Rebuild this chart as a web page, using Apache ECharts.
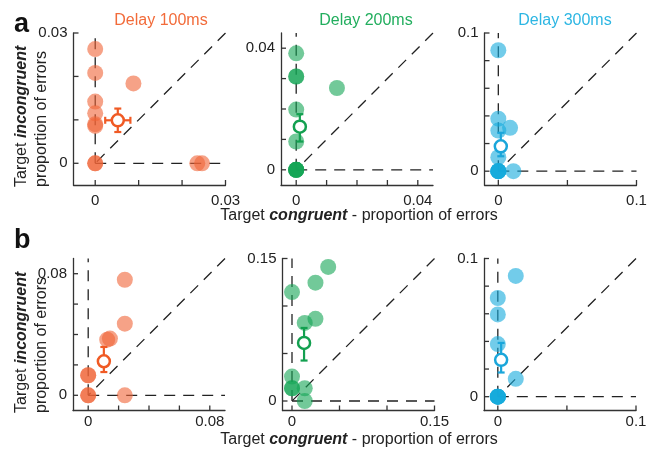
<!DOCTYPE html>
<html><head><meta charset="utf-8">
<script src="https://cdn.jsdelivr.net/npm/echarts@6/dist/echarts.min.js"></script>
<style>html,body{margin:0;padding:0;background:#fff}#c{width:655px;height:452px}</style>
</head><body><div id="c"></div>
<script>
// ---------- DATA ----------
const delayTitles = ['Delay 100ms', 'Delay 200ms', 'Delay 300ms'];
const panelLetters = ['a', 'b'];

// Row a
const a100Congruent   = [0, 0, 0, 0, 0, 0, 0, 0, 0.0088, 0.0235, 0.0246];
const a100Incongruent = [0.0263, 0.0208, 0.0142, 0.0115, 0.0090, 0.0086, 0, 0, 0.0184, 0, 0];
const a100Mean = [0.0052, 0.0099];
const a100ErrX = [0.0023, 0.0081];
const a100ErrY = [0.0072, 0.0126];

const a200Congruent   = [0, 0, 0, 0, 0, 0, 0, 0, 0, 0, 0.0134];
const a200Incongruent = [0.0383, 0.0307, 0.0307, 0.0198, 0.0093, 0, 0, 0, 0, 0, 0.0269];
const a200Mean = [0.0012, 0.0142];
const a200ErrX = [0.0012, 0.0012];
const a200ErrY = [0.0093, 0.0183];

const a300Congruent   = [0, 0, 0, 0, 0, 0, 0, 0, 0, 0.0085, 0.0109];
const a300Incongruent = [0.0875, 0.0380, 0.0294, 0.0101, 0, 0, 0, 0, 0, 0.0314, 0];
const a300Mean = [0.0018, 0.0180];
const a300ErrX = [0.0018, 0.0018];
const a300ErrY = [0.0108, 0.0278];

// Row b
const b100Congruent   = [0, 0, 0, 0, 0.0241, 0.0241, 0.0241, 0.0125, 0.0143];
const b100Incongruent = [0.0132, 0.0132, 0, 0, 0.0760, 0.0471, 0, 0.0366, 0.0373];
const b100Mean = [0.0103, 0.0224];
const b100ErrX = [0.0103, 0.0103];
const b100ErrY = [0.0153, 0.0318];

const b200Congruent   = [0, 0, 0, 0, 0.0134, 0.0134, 0.0134, 0.0247, 0.0247, 0.0381];
const b200Incongruent = [0.1147, 0.0257, 0.0134, 0.0134, 0.0822, 0.0134, 0, 0.1246, 0.0865, 0.1411];
const b200Mean = [0.0127, 0.0611];
const b200ErrX = [0.0127, 0.0127];
const b200ErrY = [0.0426, 0.0769];

const b300Congruent   = [0, 0, 0, 0, 0, 0, 0, 0, 0.0130, 0.0130];
const b300Incongruent = [0.0714, 0.0595, 0.0381, 0, 0, 0, 0, 0, 0.0874, 0.0129];
const b300Mean = [0.0024, 0.0267];
const b300ErrX = [0.0024, 0.0024];
const b300ErrY = [0.0175, 0.0389];

// axis ranges & ticks
const axisMin = [-0.005, -0.005, -0.01, -0.01, -0.01, -0.01];
const axisMax = [0.03, 0.045, 0.1, 0.09, 0.15, 0.1];
const xTicks = [[0, 0.01, 0.02, 0.03], [0, 0.01, 0.02, 0.03, 0.04], [0, 0.05, 0.1],
                [0, 0.02, 0.04, 0.06, 0.08], [0, 0.05, 0.1, 0.15], [0, 0.05, 0.1]];
const yTicks = [[0, 0.01, 0.02, 0.03], [0, 0.01, 0.02, 0.03, 0.04], [0, 0.02, 0.04, 0.06, 0.08, 0.1],
                [0, 0.02, 0.04, 0.06, 0.08], [0, 0.05, 0.1, 0.15], [0, 0.02, 0.04, 0.06, 0.08, 0.1]];
const tickLabels = [[0, 0.03], [0, 0.04], [0, 0.1], [0, 0.08], [0, 0.15], [0, 0.1]];

// ---------- STYLE / LAYOUT ----------
const FONT = '"Liberation Sans", Arial, sans-serif';
const pointColors = ['rgba(240,100,55,0.6)', 'rgba(20,165,85,0.6)', 'rgba(20,170,220,0.6)'];
const meanColors = ['#F05A24', '#13A050', '#1AA6DA'];
const titleColors = ['#F26B3A', '#22AE5E', '#2DB6E3'];
const gridLefts = [73.5, 281, 484.5, 73, 282.5, 484];
const gridTops = [33, 33, 33, 258.5, 258.5, 258.5];
const GW = 152, GH = 152;

const panels = [
  [a100Congruent, a100Incongruent, a100Mean, a100ErrX, a100ErrY],
  [a200Congruent, a200Incongruent, a200Mean, a200ErrX, a200ErrY],
  [a300Congruent, a300Incongruent, a300Mean, a300ErrX, a300ErrY],
  [b100Congruent, b100Incongruent, b100Mean, b100ErrX, b100ErrY],
  [b200Congruent, b200Incongruent, b200Mean, b200ErrX, b200ErrY],
  [b300Congruent, b300Incongruent, b300Mean, b300ErrX, b300ErrY]
];

const grid = [], xAxis = [], yAxis = [], series = [];
const AXC = '#333';
const axisLineStyle = { color: AXC, width: 1.3 };
const dashStyle = { color: '#222', width: 1.3, type: [11, 8] };
const TICK = 5;

panels.forEach((p, i) => {
  const col = i % 3, row = Math.floor(i / 3);
  grid.push({ left: gridLefts[i], top: gridTops[i], width: GW, height: GH, containLabel: false, outerBoundsMode: 'none' });
  const common = {
    gridIndex: i, type: 'value', min: axisMin[i], max: axisMax[i],
    splitLine: { show: false },
    axisTick: { show: false },
    axisLine: { show: true, onZero: false, lineStyle: axisLineStyle }
  };
  xAxis.push(Object.assign({}, common, {
    axisLabel: { show: true, customValues: tickLabels[i], formatter: v => String(v),
      margin: row === 0 ? 8 : 4, fontSize: 15, color: '#222', fontFamily: FONT }
  }));
  yAxis.push(Object.assign({}, common, {
    axisLabel: { show: true, customValues: tickLabels[i], formatter: v => String(v),
      margin: 6, fontSize: 15, color: '#222', fontFamily: FONT }
  }));
  const mx = axisMax[i], mn = axisMin[i];
  // inward ticks (x then y), positioned through the axis scale
  const tickData = xTicks[i].map(v => [v, mn, 0]).concat(yTicks[i].map(v => [mn, v, 1]));
  series.push({
    type: 'custom', xAxisIndex: i, yAxisIndex: i, z: 6, animation: false, silent: true,
    data: tickData, encode: { x: 0, y: 1 },
    renderItem: (params, api) => {
      const pt = api.coord([api.value(0), api.value(1)]);
      const isY = api.value(2) === 1;
      return {
        type: 'group', children: [{
          type: 'line',
          shape: isY ? { x1: pt[0], y1: pt[1], x2: pt[0] + TICK, y2: pt[1] }
                     : { x1: pt[0], y1: pt[1], x2: pt[0], y2: pt[1] - TICK },
          style: { stroke: AXC, lineWidth: 1.3 }
        }]
      };
    }
  });
  // reference lines
  const refLines = [[[0, 0], [0, mx]], [[0, 0], [mx, 0]], [[mx, mx], [0, 0]]];
  refLines.forEach(d => series.push({
    type: 'line', xAxisIndex: i, yAxisIndex: i, data: d, symbol: 'none', silent: true,
    lineStyle: dashStyle, z: 1, animation: false
  }));
  // individual subjects
  series.push({
    type: 'scatter', xAxisIndex: i, yAxisIndex: i, symbolSize: 16, z: 2, animation: false,
    data: p[0].map((x, k) => [x, p[1][k]]),
    itemStyle: { color: pointColors[col], opacity: 1 }
  });
  // error bars
  const c = meanColors[col];
  series.push({
    type: 'custom', xAxisIndex: i, yAxisIndex: i, z: 3, animation: false,
    data: [[p[2][0], p[2][1], p[3][0], p[3][1], p[4][0], p[4][1]]],
    encode: { x: 0, y: 1 },
    renderItem: (params, api) => {
      const m = [api.value(0), api.value(1)];
      const style = { stroke: c, lineWidth: 2.2 };
      const ch = [];
      const cap = 3.5;
      const y1 = api.coord([m[0], api.value(4)]), y2 = api.coord([m[0], api.value(5)]);
      if (Math.abs(y1[1] - y2[1]) > 1) {
        ch.push({ type: 'line', shape: { x1: y1[0], y1: y1[1], x2: y2[0], y2: y2[1] }, style });
        ch.push({ type: 'line', shape: { x1: y1[0] - cap, y1: y1[1], x2: y1[0] + cap, y2: y1[1] }, style });
        ch.push({ type: 'line', shape: { x1: y2[0] - cap, y1: y2[1], x2: y2[0] + cap, y2: y2[1] }, style });
      }
      const x1 = api.coord([api.value(2), m[1]]), x2 = api.coord([api.value(3), m[1]]);
      if (Math.abs(x1[0] - x2[0]) > 1) {
        ch.push({ type: 'line', shape: { x1: x1[0], y1: x1[1], x2: x2[0], y2: x2[1] }, style });
        ch.push({ type: 'line', shape: { x1: x1[0], y1: x1[1] - cap, x2: x1[0], y2: x1[1] + cap }, style });
        ch.push({ type: 'line', shape: { x1: x2[0], y1: x2[1] - cap, x2: x2[0], y2: x2[1] + cap }, style });
      }
      return { type: 'group', children: ch };
    }
  });
  // mean marker
  series.push({
    type: 'scatter', xAxisIndex: i, yAxisIndex: i, symbolSize: 12, z: 4, animation: false,
    data: [[p[2][0], p[2][1]]],
    itemStyle: { color: '#fff', borderColor: c, borderWidth: 2.5, opacity: 1 }
  });
});

const graphic = [];
delayTitles.forEach((t, k) => graphic.push({
  type: 'text', x: [161, 366, 565][k], y: 21,
  style: { text: t, fill: titleColors[k], font: '16px ' + FONT, align: 'center', verticalAlign: 'middle' }
}));
panelLetters.forEach((t, k) => graphic.push({
  type: 'text', x: 14, y: [38, 254][k],
  style: { text: t, fill: '#111', font: 'bold 27px ' + FONT, align: 'left', verticalAlign: 'bottom' }
}));
const richTitle = {
  n: { fontSize: 16, fontFamily: FONT, fill: '#222', color: '#222' },
  b: { fontSize: 16, fontFamily: FONT, fontWeight: 'bold', fontStyle: 'italic', fill: '#222', color: '#222' }
};
[187, 413].forEach(by => {
  graphic.push({
    type: 'text', x: 22, y: by, rotation: Math.PI / 2,
    style: { text: '{n|Target }{b|incongruent}', rich: richTitle, align: 'left', verticalAlign: 'middle', fill: '#222' }
  });
  graphic.push({
    type: 'text', x: 42, y: by, rotation: Math.PI / 2,
    style: { text: 'proportion of errors', font: '16px ' + FONT, fill: '#222', align: 'left', verticalAlign: 'middle' }
  });
});
[216, 440].forEach(cy => graphic.push({
  type: 'text', x: 359, y: cy,
  style: { text: '{n|Target }{b|congruent}{n| - proportion of errors}', rich: richTitle, align: 'center', verticalAlign: 'middle', fill: '#222' }
}));

const chart = echarts.init(document.getElementById('c'), null, { renderer: 'canvas' });
chart.setOption({ animation: false, backgroundColor: '#fff', grid, xAxis, yAxis, series, graphic });
</script></body></html>
